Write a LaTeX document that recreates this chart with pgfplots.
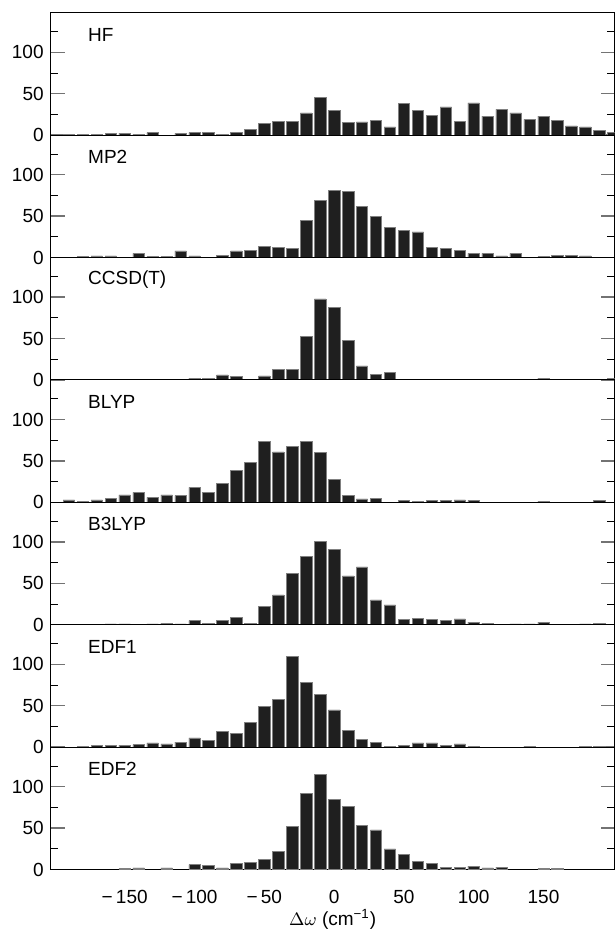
\documentclass[border=0pt]{standalone}
\usepackage{fontspec}
\setmainfont{Liberation Sans}
\usepackage{pgfplots}
\pgfplotsset{compat=1.18}

\pgfplotsset{
  panel/.style={
    scale only axis, width=282pt, height=61.2pt,
    xmin=-203, xmax=201, ymin=0, ymax=148,
    anchor=south west,
    axis line style={line width=0.5pt},
    ytick={0,50,100}, minor ytick={25,75,125},
    ytick pos=both, yticklabel pos=left,
    tick align=inside,
    major tick length=7pt, minor tick length=3.8pt,
    major tick style={black!55, line width=0.7pt},
    minor tick style={black, line width=0.5pt},
    xtick=\empty,
    ybar, bar width=8.2,
    tick label style={font=\fontsize{9.5}{10}\selectfont},
    /pgf/number format/assume math mode=true,
  },
  hist/.style={fill=black!88, draw=black!50, line width=0.25pt},
}
\tikzset{lbl/.style={anchor=west, font=\fontsize{9.5}{11}\selectfont}}

\begin{document}
\begin{tikzpicture}

% HF
\begin{axis}[panel, at={(0,6*61.2pt)}]
\addplot[hist] coordinates {
(-190,1)(-180,1)(-170,1)(-160,2)(-150,2)(-140,1)(-130,3)(-110,2)(-100,3)(-90,3)
(-80,1)(-70,3)(-60,7)(-50,14)(-40,17)(-30,17)(-20,27)(-10,46)(0,30)(10,15)
(20,16)(30,18)(40,10)(50,38)(60,30)(70,24)(80,34)(90,17)(100,39)(110,23)
(120,31)(130,27)(140,19)(150,23)(160,18)(170,11)(180,10)(190,6)(200,3)
};
\node[lbl] at (rel axis cs:0.054,0.822) {HF};
\end{axis}

% MP2
\begin{axis}[panel, at={(0,5*61.2pt)}]
\addplot[hist] coordinates {
(-180,1)(-170,2)(-160,2)(-140,5)(-130,1)(-120,1)(-110,8)(-100,2)(-80,3)(-70,8)
(-60,9)(-50,13)(-40,12)(-30,11)(-20,45)(-10,69)(0,81)(10,80)(20,62)(30,50)
(40,36)(50,33)(60,31)(70,12)(80,11)(90,9)(100,5)(110,5)(120,2)(130,5)
(150,1)(160,3)(170,3)(180,2)
};
\node[lbl] at (rel axis cs:0.054,0.822) {MP2};
\end{axis}

% CCSD(T)
\begin{axis}[panel, at={(0,4*61.2pt)}]
\addplot[hist] coordinates {
(-130,1)(-120,1)(-100,2)(-90,2)(-80,6)(-70,4)(-60,1)(-50,5)(-40,13)(-30,13)
(-20,53)(-10,98)(0,88)(10,48)(20,17)(30,7)(40,9)(50,1)(60,1)(70,1)
(90,1)(120,1)(150,2)(200,2)
};
\node[lbl] at (rel axis cs:0.054,0.822) {CCSD(T)};
\end{axis}

% BLYP
\begin{axis}[panel, at={(0,3*61.2pt)}]
\addplot[hist] coordinates {
(-190,3)(-180,1)(-170,3)(-160,5)(-150,9)(-140,12)(-130,6)(-120,9)(-110,8)(-100,18)
(-90,12)(-80,23)(-70,39)(-60,48)(-50,74)(-40,61)(-30,68)(-20,74)(-10,60)(0,28)
(10,8)(20,4)(30,5)(50,2)(60,1)(70,2)(80,2)(90,3)(100,2)(150,1)(190,2)
};
\node[lbl] at (rel axis cs:0.054,0.822) {BLYP};
\end{axis}

% B3LYP
\begin{axis}[panel, at={(0,2*61.2pt)}]
\addplot[hist] coordinates {
(-160,1)(-150,1)(-130,1)(-120,2)(-110,1)(-100,5)(-90,2)(-80,5)(-70,9)(-60,2)
(-50,22)(-40,36)(-30,62)(-20,83)(-10,101)(0,91)(10,59)(20,70)(30,30)(40,24)
(50,6)(60,8)(70,6)(80,5)(90,7)(100,3)(110,2)(130,1)(140,1)(150,3)
(180,1)(190,2)
};
\node[lbl] at (rel axis cs:0.054,0.822) {B3LYP};
\end{axis}

% EDF1
\begin{axis}[panel, at={(0,1*61.2pt)}]
\addplot[hist] coordinates {
(-180,1)(-170,2)(-160,2)(-150,2)(-140,3)(-130,5)(-120,4)(-110,6)(-100,11)(-90,8)
(-80,19)(-70,17)(-60,30)(-50,49)(-40,58)(-30,110)(-20,78)(-10,64)(0,45)(10,20)
(20,9)(30,6)(40,1)(50,2)(60,5)(70,5)(80,2)(90,4)(100,1)(140,1)
(180,1)(190,1)
};
\node[lbl] at (rel axis cs:0.054,0.822) {EDF1};
\end{axis}

% EDF2
\begin{axis}[panel, at={(0,0)},
  xtick={-150,-100,-50,0,50,100,150},
  xticklabels={−\,150,−\,100,−\,50,0,50,100,150},
  xtick style={draw=none},
  xlabel={$\Delta\omega$ (cm\textsuperscript{−1})},
  xlabel style={at={(axis description cs:0.5,0)}, anchor=center, yshift=-25pt,
    font=\fontsize{9.5}{10}\selectfont},
]
\addplot[hist] coordinates {
(-150,1)(-140,2)(-120,2)(-100,6)(-90,5)(-80,2)(-70,7)(-60,9)(-50,12)(-40,22)
(-30,52)(-20,92)(-10,115)(0,85)(10,76)(20,53)(30,48)(40,25)(50,18)(60,10)
(70,7)(80,3)(90,3)(100,4)(110,2)(120,3)(150,1)(160,1)
};
\node[lbl] at (rel axis cs:0.054,0.822) {EDF2};
\end{axis}

\pgfresetboundingbox
\path[use as bounding box] (-25.35pt,-29.75pt) rectangle (282pt,434.75pt);
\end{tikzpicture}
\end{document}
